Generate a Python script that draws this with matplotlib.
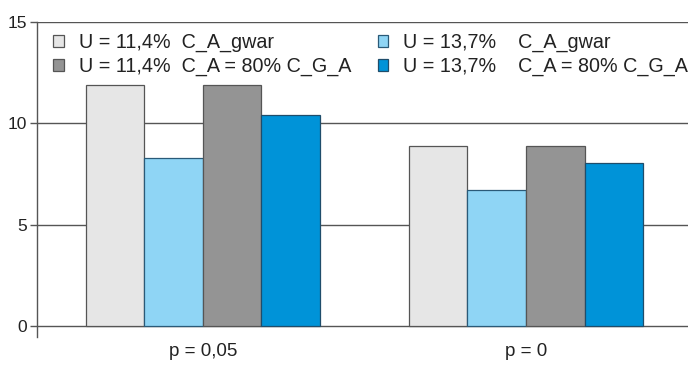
import matplotlib.pyplot as plt
import numpy as np

plt.rcParams['font.family'] = ['Liberation Sans', 'DejaVu Sans']

groups = ['p = 0,05', 'p = 0']
labels = ['U = 11,4%  C_A_gwar', 'U = 13,7%    C_A_gwar',
          'U = 11,4%  C_A = 80% C_G_A', 'U = 13,7%    C_A = 80% C_G_A']
u114_gwar = [11.9, 8.88]
u137_gwar = [8.3, 6.7]
u114_80 = [11.9, 8.88]
u137_80 = [10.4, 8.03]
series = [u114_gwar, u137_gwar, u114_80, u137_80]
colors = ['#e6e6e6', '#8fd5f5', '#949494', '#0093d8']
edges = ['#555555', '#2a5a78', '#555555', '#1f4d6b']
yticks = [0, 5, 10, 15]

fig = plt.figure(figsize=(7, 3.74), dpi=100)
ax = fig.add_axes([0.053, 0.099, 0.93, 0.842])

x = np.arange(len(groups))
w = 0.1815
bars = []
for i, vals in enumerate(series):
    b = ax.bar(x + (i - 1.5) * w, vals, w, color=colors[i], edgecolor=edges[i],
               linewidth=0.9, zorder=3, label=labels[i])
    bars.append(b)

for t in yticks:
    ax.axhline(t, color='#555555', linewidth=1, zorder=1)

ax.set_xlim(-0.513, 1.502)
ax.set_ylim(-0.55, 15)
ax.set_yticks(yticks)
ax.set_xticks(x)
ax.set_xticklabels(groups, fontsize=13.5, color='#222222')
ax.tick_params(axis='x', length=0, pad=4)
ax.tick_params(axis='y', length=5, width=1, color='#555555', labelsize=12.5,
               labelcolor='#222222', pad=2)
for s in ['top', 'right', 'bottom']:
    ax.spines[s].set_visible(False)
ax.spines['left'].set_color('#555555')
ax.spines['left'].set_linewidth(1)

# legend order: column 1 = U 11,4%, column 2 = U 13,7%
handles = [bars[0], bars[2], bars[1], bars[3]]
leg = fig.legend(handles, [labels[0], labels[2], labels[1], labels[3]],
                 ncol=2, loc='upper left', bbox_to_anchor=(53 / 700, 1 - 33 / 374),
                 frameon=False, fontsize=14.2, handlelength=0.55, handleheight=0.55,
                 handletextpad=0.75, columnspacing=1.35, labelspacing=0.24,
                 borderpad=0, borderaxespad=0)
for t in leg.get_texts():
    t.set_color('#222222')

fig.savefig('out.png', dpi=100)
